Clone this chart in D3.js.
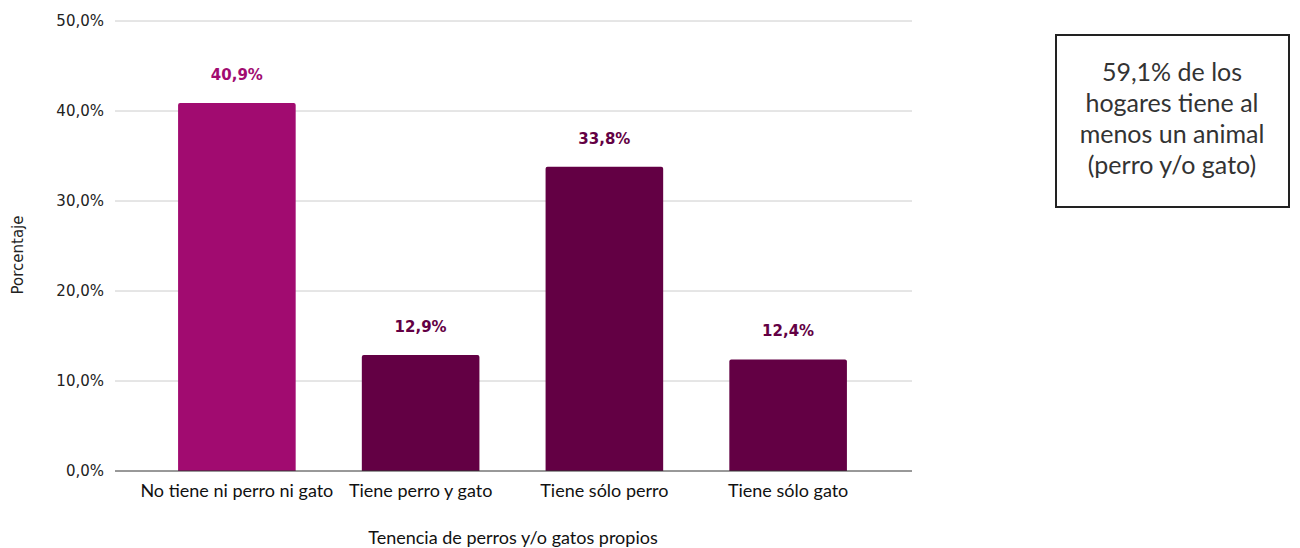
<!DOCTYPE html>
<html>
<head>
<meta charset="utf-8">
<script src="https://cdn.jsdelivr.net/npm/d3@7"></script>
<style>
  body { margin: 0; background: #fff; }
  svg { display: block; }
  .os { font-family: "DejaVu Sans", sans-serif; }
  .lt { font-family: Lato, sans-serif; }
</style>
</head>
<body>
<svg id="canvas"></svg>
<script>
let categories = ['No tiene ni perro ni gato', 'Tiene perro y gato', 'Tiene sólo perro', 'Tiene sólo gato'];
let values = [40.9, 12.9, 33.8, 12.4];
let barColors = ['#a10b70', '#630044', '#630044', '#630044'];
let yTicks = [0, 10, 20, 30, 40, 50];
let noteLines = ['59,1% de los', 'hogares tiene al', 'menos un animal', '(perro y/o gato)'];

let canvas = d3.select('#canvas');

let drawChart = () => {
  const width = 1300;
  const height = 548;
  canvas.attr('width', width).attr('height', height);

  const left = 115, right = 912, top = 21, bottom = 471;

  const y = d3.scaleLinear().domain([0, 50]).range([bottom, top]);
  const x = d3.scaleBand()
    .domain(categories)
    .range([145, 880])
    .paddingInner(0.36)
    .paddingOuter(0.18);

  const fmt = v => v.toFixed(1).replace('.', ',') + '%';

  // grid
  canvas.append('g')
    .selectAll('line')
    .data(yTicks.filter(t => t > 0))
    .enter()
    .append('line')
    .attr('x1', left)
    .attr('x2', right)
    .attr('y1', d => y(d))
    .attr('y2', d => y(d))
    .attr('stroke', '#cccccc')
    .attr('stroke-width', 1);

  // y tick labels
  canvas.append('g')
    .selectAll('text')
    .data(yTicks)
    .enter()
    .append('text')
    .attr('class', 'os')
    .attr('x', 104)
    .attr('y', d => y(d) + 5)
    .attr('text-anchor', 'end')
    .attr('font-size', 15)
    .attr('fill', '#222')
    .text(d => fmt(d));

  // bars
  canvas.append('g')
    .selectAll('path')
    .data(values)
    .enter()
    .append('path')
    .attr('d', (d, i) => {
      const x0 = x(categories[i]), w = x.bandwidth();
      const y0 = y(d), r = 2;
      return `M${x0},${bottom}V${y0 + r}Q${x0},${y0} ${x0 + r},${y0}H${x0 + w - r}Q${x0 + w},${y0} ${x0 + w},${y0 + r}V${bottom}Z`;
    })
    .attr('fill', (d, i) => barColors[i]);

  // value labels
  canvas.append('g')
    .selectAll('text')
    .data(values)
    .enter()
    .append('text')
    .attr('class', 'os')
    .attr('x', (d, i) => x(categories[i]) + x.bandwidth() / 2)
    .attr('y', d => y(d) - 23)
    .attr('text-anchor', 'middle')
    .attr('font-weight', 'bold')
    .attr('font-size', 15)
    .attr('fill', (d, i) => barColors[i])
    .text(d => fmt(d));

  // baseline
  canvas.append('line')
    .attr('x1', left)
    .attr('x2', right)
    .attr('y1', bottom)
    .attr('y2', bottom)
    .attr('stroke', '#333')
    .attr('stroke-width', 1);

  // category labels
  canvas.append('g')
    .selectAll('text')
    .data(categories)
    .enter()
    .append('text')
    .attr('class', 'lt')
    .attr('x', d => x(d) + x.bandwidth() / 2)
    .attr('y', 497)
    .attr('text-anchor', 'middle')
    .attr('font-size', 18)
    .attr('fill', '#111')
    .text(d => d);

  // axis titles
  canvas.append('text')
    .attr('class', 'lt')
    .attr('x', 513)
    .attr('y', 544)
    .attr('text-anchor', 'middle')
    .attr('font-size', 18)
    .attr('fill', '#111')
    .text('Tenencia de perros y/o gatos propios');

  canvas.append('text')
    .attr('class', 'os')
    .attr('transform', 'translate(23,255) rotate(-90)')
    .attr('text-anchor', 'middle')
    .attr('font-size', 15)
    .attr('fill', '#222')
    .text('Porcentaje');

  // note box
  canvas.append('rect')
    .attr('x', 1056)
    .attr('y', 35)
    .attr('width', 233)
    .attr('height', 172)
    .attr('fill', '#fff')
    .attr('stroke', '#222')
    .attr('stroke-width', 2);

  canvas.append('g')
    .selectAll('text')
    .data(noteLines)
    .enter()
    .append('text')
    .attr('class', 'lt')
    .attr('x', 1172)
    .attr('y', (d, i) => 81 + i * 31)
    .attr('text-anchor', 'middle')
    .attr('font-size', 25)
    .attr('fill', '#333')
    .text(d => d);
};

drawChart();
</script>
</body>
</html>
